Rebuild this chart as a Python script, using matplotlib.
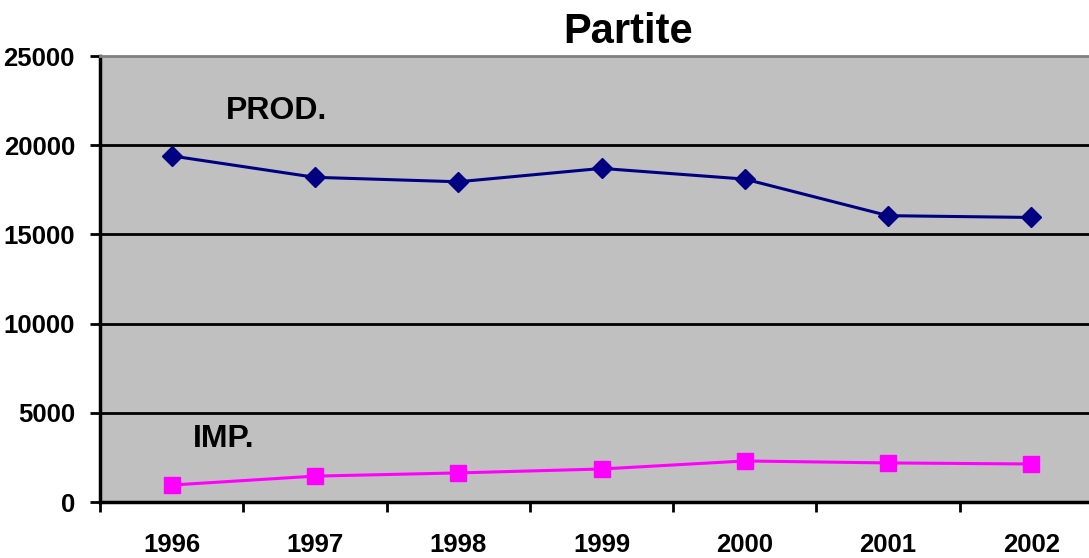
import numpy as np
import matplotlib.pyplot as plt

plt.rcParams['font.family'] = ['Liberation Sans', 'DejaVu Sans']
plt.rcParams['font.weight'] = 'bold'

years = ['1996', '1997', '1998', '1999', '2000', '2001', '2002']
prod = [19400, 18200, 17950, 18700, 18100, 16050, 15950]
imp = [950, 1450, 1630, 1850, 2300, 2190, 2130]
yticks = [0, 5000, 10000, 15000, 20000, 25000]

fig = plt.figure(figsize=(10.89, 5.58), dpi=100)
ax = fig.add_axes([100 / 1089, 56 / 558, 1003 / 1089, 446 / 558])
ax.set_facecolor('#c0c0c0')

x = np.arange(len(years))
ax.plot(x, prod, color='#000080', lw=2.2, marker='D', ms=10, zorder=3)
ax.plot(x, imp, color='#ff00ff', lw=2.2, marker='s', ms=11, zorder=3)

ax.set_xlim(-0.5, len(years) - 0.5)
ax.set_ylim(0, 25000)

# gridlines
for v in yticks[1:-1]:
    ax.axhline(v, color='black', lw=2, zorder=1)

ax.set_yticks(yticks)
ax.set_yticklabels([str(v) for v in yticks], fontsize=18.5, fontweight='bold')
ax.tick_params(axis='y', length=7, width=2, pad=11)

ax.set_xticks(x)
ax.set_xticklabels(years, fontsize=18.5, fontweight='bold')
ax.tick_params(axis='x', which='major', length=0, pad=22)
ax.set_xticks(np.arange(-0.5, len(years), 1), minor=True)
ax.tick_params(axis='x', which='minor', length=7, width=2, direction='out')

for s in ['left', 'bottom']:
    ax.spines[s].set_linewidth(2.5)
ax.spines['top'].set_color('#808080')
ax.spines['top'].set_linewidth(2)
ax.spines['right'].set_visible(False)

ax.text(0.38, 21900, 'PROD.', fontsize=23, fontweight='bold', ha='left', va='center')
ax.text(0.15, 3540, 'IMP.', fontsize=23, fontweight='bold', ha='left', va='center')

fig.text(628 / 1089, 1 - 32 / 558, 'Partite', fontsize=30, fontweight='bold',
         ha='center', va='center')

fig.savefig('out.png', dpi=100)
